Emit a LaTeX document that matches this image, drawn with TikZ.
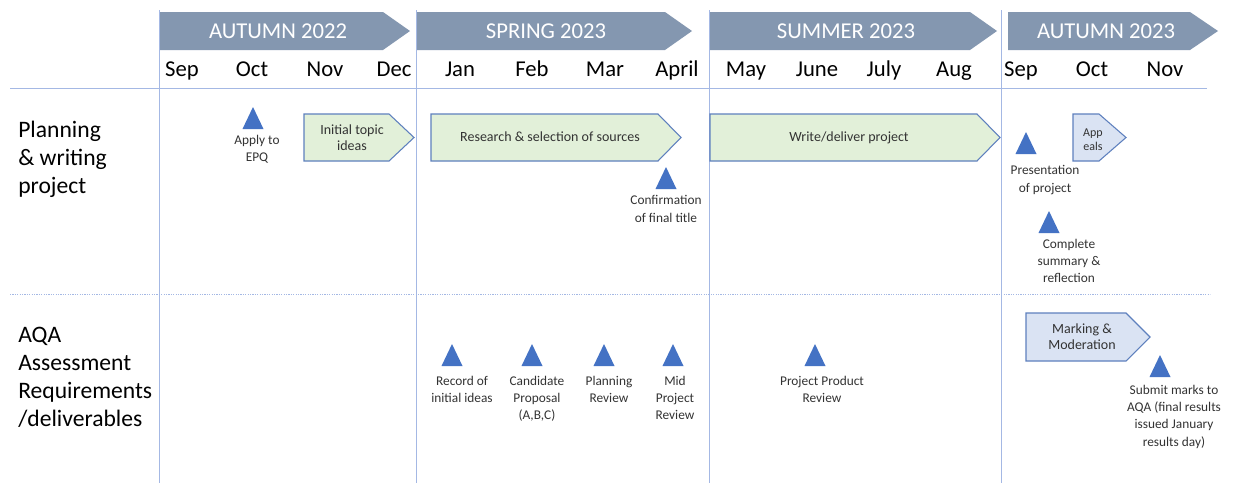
\documentclass[tikz,border=0pt]{standalone}
\usepackage{fontspec}
\setmainfont{Carlito}
\definecolor{bandfill}{HTML}{8497B0}
\definecolor{gridblue}{HTML}{A4B8E4}
\definecolor{greenfill}{HTML}{E2F0D9}
\definecolor{bluefill}{HTML}{DAE3F3}
\definecolor{boxedgecol}{HTML}{5E80BE}
\definecolor{tricol}{HTML}{4472C4}
\definecolor{labelgray}{HTML}{333333}
\tikzset{
  bandtext/.style={text=white, font=\fontsize{17}{19}\selectfont, inner sep=0pt},
  monthtext/.style={text=black, font=\fontsize{17}{19}\selectfont, inner sep=0pt, anchor=base},
  rowtext/.style={text=black, font=\fontsize{17.7}{21}\selectfont, align=left, inner sep=0pt, anchor=north west},
  boxedge/.style={draw=boxedgecol, line width=0.8pt, line join=miter},
  greenbox/.style={fill=greenfill},
  bluebox/.style={fill=bluefill},
  boxtext/.style={text=labelgray, font=\fontsize{10.5}{12}\selectfont, align=center, inner sep=0pt},
  smallbox/.style={text=labelgray, font=\fontsize{9}{10.5}\selectfont, align=center, inner sep=0pt},
  mslabel/.style={text=labelgray, font=\fontsize{10}{13}\selectfont, align=center, inner sep=0pt, anchor=north},
  gridline/.style={draw=gridblue, line width=0.7pt},
}
% season banner: name, left x, start of point, tip x, text x, text
\newcommand\seasonband[6]{%
  \fill[bandfill] (#2,12) -- (#3,12) -- (#4,31) -- (#3,50) -- (#2,50) -- cycle;
  \node[bandtext] (#1) at (#5,31) {#6};}
% phase arrow: name, left x, start of point, tip x, top y, bottom y, style, text x, text
\newcommand\phasebox[9]{%
  \draw[boxedge,#7] (#2,#5) -- (#3,#5) -- (#4,{(#5+#6)/2}) -- (#3,#6) -- (#2,#6) -- cycle;
  \node[boxtext] (#1) at (#8,{(#5+#6)/2}) {#9};}
% milestone marker: name, marker x, marker top y, label x, label top y, text
\newcommand\milestone[6]{%
  \fill[tricol] (#2-10.5,#3+22) -- (#2+10.5,#3+22) -- (#2,#3) -- cycle;
  \node[mslabel] (#1) at (#4,#5) {#6};}
\begin{document}
\begin{tikzpicture}[x=0.75pt,y=-0.75pt]
\useasboundingbox (0,0) rectangle (1233,483);
\fill[white] (0,0) rectangle (1233,483);

% grid
\foreach \gx in {159,416,709,1001} \draw[gridline] (\gx,10) -- (\gx,483);
\draw[gridline] (10,88) -- (1207,88);
\draw[gridblue, line width=0.7pt, dash pattern=on 0.9pt off 0.9pt] (10,294) -- (1210,294);

% seasons
\seasonband{aut22}{160}{383}{410}{278}{AUTUMN 2022}
\seasonband{spr23}{417}{665}{692}{546}{SPRING 2023}
\seasonband{sum23}{710}{970}{997}{846}{SUMMER 2023}
\seasonband{aut23}{1008}{1190}{1218}{1106}{AUTUMN 2023}

% months
\foreach \mx/\mname/\mid in {182/Sep/m1,252/Oct/m2,325/Nov/m3,394/Dec/m4,460/Jan/m5,532/Feb/m6,605/Mar/m7,677/April/m8,746/May/m9,817/June/m10,884/July/m11,954/Aug/m12,1021/Sep/m13,1092/Oct/m14,1165/Nov/m15}
  \node[monthtext] (\mid) at (\mx,76.5) {\mname};

% row headings
\node[rowtext] (row1) at (18,121) {Planning\\\& writing\\project};
\node[rowtext] (row2) at (18,327) {AQA\\Assessment\\Requirements\\/deliverables};

% planning & writing phases
\phasebox{initial}{304}{389}{414}{114}{161}{greenbox}{352}{Initial topic\\ideas}
\phasebox{research}{431}{658}{681}{114}{161}{greenbox}{550}{\vphantom{Alg}Research \& selection of sources}
\phasebox{write}{710}{977}{1000}{114}{161}{greenbox}{849}{\vphantom{Alg}Write/deliver project}
\phasebox{appeals}{1073}{1099}{1126}{114}{161}{bluebox}{1093}{}
\node[smallbox] (appealstext) at (1093,140) {App\\eals};

% assessment phase
\phasebox{marking}{1026}{1126}{1150}{313}{361}{bluebox}{1082}{Marking \&\\Moderation}

% milestones
\milestone{apply}{253}{107}{257}{135}{Apply to\\EPQ}
\milestone{confirm}{666}{167}{666}{195.5}{Confirmation\\of final title}
\milestone{present}{1026}{132}{1045}{165.5}{Presentation\\of project}
\milestone{complete}{1049}{211}{1069}{238.5}{Complete\\summary \&\\reflection}
\milestone{record}{452}{344}{462}{375.5}{Record of\\initial ideas}
\milestone{proposal}{532}{344}{537}{375.5}{Candidate\\Proposal\\(A,B,C)}
\milestone{planrev}{604}{344}{609}{375.5}{Planning\\Review}
\milestone{midrev}{673}{344}{675}{375.5}{Mid\\Project\\Review}
\milestone{prodrev}{815}{344}{822}{375.5}{Project Product\\Review}
\milestone{submit}{1160}{355}{1174}{384.5}{Submit marks to\\AQA (final results\\issued January\\results day)}
\end{tikzpicture}
\end{document}
